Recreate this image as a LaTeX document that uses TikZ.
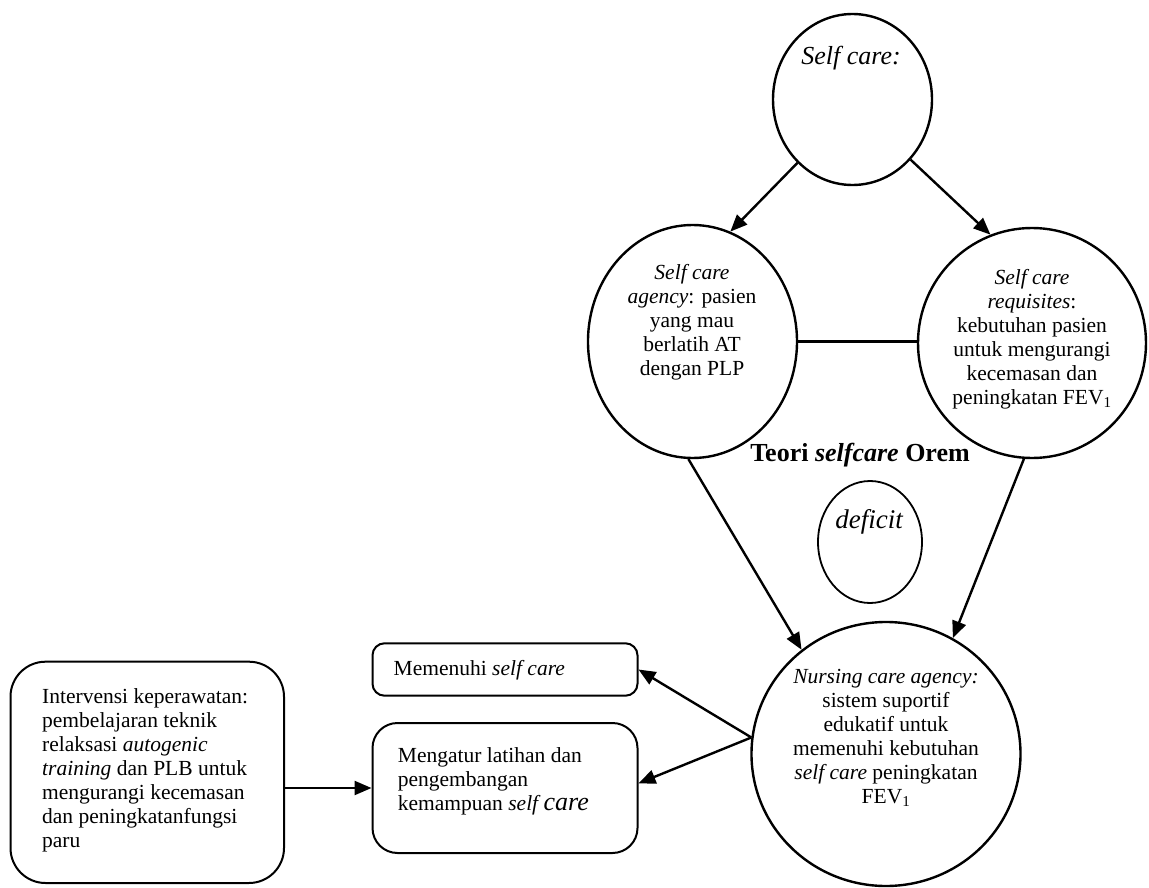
\documentclass[tikz,border=0pt]{standalone}
\usepackage{fontspec}
\setmainfont{Liberation Serif}
\usetikzlibrary{shapes.geometric,arrows.meta}
\begin{document}
\begin{tikzpicture}[x=1pt,y=-1pt,
  every node/.style={inner sep=0pt},
  oval/.style={ellipse,draw,line width=2.4pt},
  rbox/.style={draw,line width=2pt,rectangle},
  txt/.style={font=\fontsize{21.5}{24}\selectfont,align=center},
  conn/.style={line width=2.4pt,-{Triangle[length=17pt,width=14pt]}},
  plain/.style={line width=2.2pt}
]
\useasboundingbox[fill=white] (0,0) rectangle (1149,888);

% shapes
\node[oval,minimum width=159pt,minimum height=171pt] (top) at (852.5,99.5) {};
\node[oval,minimum width=209pt,minimum height=233pt] (agency) at (692.5,341.5) {};
\node[oval,minimum width=228pt,minimum height=230pt] (req) at (1032,343) {};
\node[oval,minimum width=104pt,minimum height=122pt,line width=1.8pt] (def) at (870,542) {};
\node[oval,minimum width=269pt,minimum height=264pt] (nurse) at (886,754) {};

\node[rbox,rounded corners=35pt,minimum width=273.5pt,minimum height=221.3pt] (interv) at (147.25,772.35) {};
\node[rbox,rounded corners=12pt,minimum width=265pt,minimum height=52.4pt] (meme) at (505,669.5) {};
\node[rbox,rounded corners=25pt,minimum width=265pt,minimum height=130pt] (atur) at (505,788) {};

% texts
\node[txt,font=\fontsize{26}{30}\selectfont\itshape] (tSC) at (851,58) {Self care:};
\node[txt] (tAg) at (692,322) {\textit{Self care}\\\textit{agency}: pasien\\yang mau\\berlatih AT\\dengan PLP};
\node[txt] (tReq) at (1032,339) {\textit{Self care}\\\textit{requisites}:\\kebutuhan pasien\\untuk mengurangi\\kecemasan dan\\peningkatan FEV\textsubscript{1}};
\node[font=\fontsize{26}{30}\selectfont\bfseries] (title) at (860,455) {Teori \textit{selfcare} Orem};
\node[font=\fontsize{27}{30}\selectfont\itshape] (tDef) at (869,522) {deficit};
\node[txt] (tNur) at (886,738) {\textit{Nursing care agency:}\\sistem suportif\\edukatif untuk\\memenuhi kebutuhan\\\textit{self care} peningkatan\\FEV\textsubscript{1}};
\node[txt,align=left,anchor=west] (tInt) at (42,770) {Intervensi keperawatan:\\pembelajaran teknik\\relaksasi \textit{autogenic}\\\textit{training} dan PLB untuk\\mengurangi kecemasan\\dan peningkatanfungsi\\paru};
\node[txt,align=left,anchor=west] (tMem) at (393.5,670) {Memenuhi \textit{self care}};
\node[txt,align=left,anchor=west] (tAtur) at (397.7,781) {Mengatur latihan dan\\pengembangan\\kemampuan \textit{self {\fontsize{26}{29}\selectfont care}}};

% connectors
\draw[conn] (top.229) -- (agency.71);
\draw[conn] (top.314) -- (req.111);
\draw[plain] (agency.east) -- (agency.east -| req.west);
\draw[conn] (agency.268) -- (nurse.129);
\draw[conn] (req.266) -- (nurse.60);
\draw[conn] (nurse.173) -- (meme.east);
\draw[conn] (nurse.173) -- (atur.2);
\draw[conn] (interv.east |- atur.west) -- (atur.west);
\end{tikzpicture}
\end{document}
